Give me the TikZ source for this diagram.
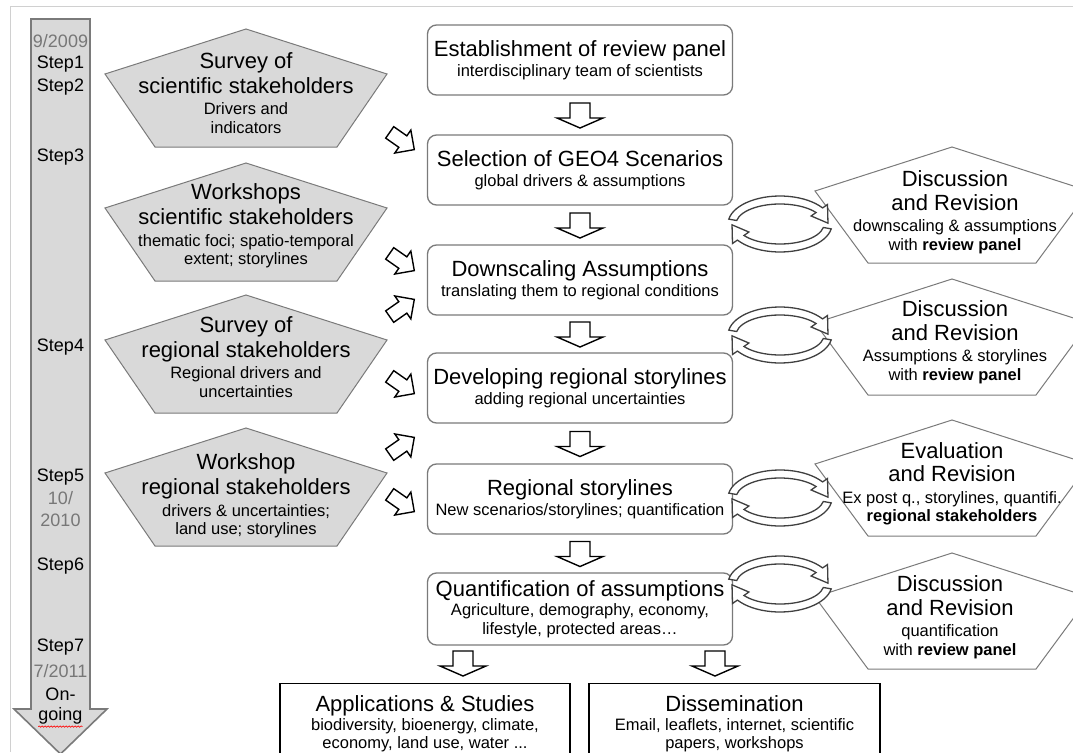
\documentclass[tikz,border=0pt]{standalone}
\usepackage{fontspec}
\setmainfont{Liberation Sans}
\usetikzlibrary{calc,decorations.pathmorphing}

\definecolor{boxgray}{HTML}{7A7A7A}
\definecolor{fillgray}{HTML}{D9D9D9}
\definecolor{dategray}{HTML}{777777}
\definecolor{framegray}{HTML}{D0D0D0}

\newcommand\titlesize{\fontsize{22}{24}\selectfont}
\newcommand\subsize{\fontsize{16.5}{18.5}\selectfont}
\newcommand\stepsize{\fontsize{18}{20}\selectfont}

\tikzset{
  mainbox/.style={draw=boxgray, line width=1.3pt, rounded corners=9pt, fill=white,
    minimum width=305pt, minimum height=70pt, align=center, inner sep=0pt, font=\subsize},
  endbox/.style={draw=black, line width=1.3pt, fill=white, anchor=north,
    minimum width=290pt, minimum height=80pt, align=center, inner sep=0pt, font=\subsize},
  leftpent/.style={draw=boxgray, fill=fillgray, line width=1pt},
  rightpent/.style={draw=boxgray, fill=white, line width=1pt},
  pentext/.style={align=center, inner sep=0pt, font=\subsize},
  steplbl/.style={font=\stepsize, inner sep=0pt},
  datelbl/.style={font=\stepsize, text=dategray, inner sep=0pt},
  blockarr/.style={draw=black, fill=white, line width=1.4pt, line join=miter},
  revarr/.style={draw=black!75, fill=white, line width=1.3pt},
  downarr/.pic={
    \draw[blockarr] (-10,-12) -- (-10,3) -- (-23,3) -- (0,13) -- (23,3) -- (10,3) -- (10,-12) -- cycle;
  },
  feedarr/.pic={
    \draw[blockarr] (-15,-7) -- (1,-7) -- (1,-14) -- (15,0) -- (1,14) -- (1,7) -- (-15,7) -- cycle;
  },
  revloop/.pic={
    \foreach \r in {0,180}
      \draw[revarr,rotate=\r] (-170:52 and 28) arc[start angle=-170, end angle=-35, x radius=52, y radius=28]
        -- (-35:58 and 34) -- (-2:48 and 24) -- (-35:38 and 14) -- (-35:44 and 20)
        arc[start angle=-35, end angle=-170, x radius=44, y radius=20] -- cycle;
  }
}

\begin{document}
\begin{tikzpicture}[x=1pt,y=-1pt]
\useasboundingbox (0,0) rectangle (1073,752);
\clip (0,0) rectangle (1073,752);

% frame
\draw[framegray, line width=1pt] (10,752) -- (10,7) -- (1073,7);

% time line
\draw[fill=fillgray, draw=boxgray, line width=1.6pt] (31,19) -- (90,19) -- (90,709) -- (107,709)
  -- (60.5,754) -- (14,709) -- (31,709) -- cycle;

\node[datelbl] (d1) at (60.5,41) {9/2009};
\node[steplbl] (s1) at (60.5,64) {Step1};
\node[steplbl] (s2) at (60.5,87) {Step2};
\node[steplbl] (s3) at (60.5,157) {Step3};
\node[steplbl] (s4) at (60.5,347) {Step4};
\node[steplbl] (s5) at (60.5,477) {Step5};
\node[datelbl] (d2) at (60.5,498) {10/};
\node[datelbl] (d3) at (60.5,520) {2010};
\node[steplbl] (s6) at (60.5,566) {Step6};
\node[steplbl] (s7) at (60.5,647) {Step7};
\node[datelbl] (d4) at (60.5,671) {7/2011};
\node[steplbl] (on) at (60.5,694) {On-};
\node[steplbl] (go) at (60.5,716) {going};
\draw[red, line width=0.6pt, decorate, decoration={snake, amplitude=0.7pt, segment length=3pt}]
  ($(go.south west)+(0,2)$) -- ($(go.south east)+(0,2)$);

% main column
\node[mainbox] (est) at (580,60) {\titlesize Establishment of review panel\\[1.5pt]
  interdisciplinary team of scientists};
\node[mainbox] (sel) at (580,170) {\titlesize Selection of GEO4 Scenarios\\[1.5pt]
  global drivers \& assumptions};
\node[mainbox] (dsc) at (580,280) {\titlesize Downscaling Assumptions\\[1.5pt]
  translating them to regional conditions};
\node[mainbox] (dev) at (580,388) {\titlesize Developing regional storylines\\[1.5pt]
  adding regional uncertainties};
\node[mainbox] (reg) at (580,499) {\titlesize Regional storylines\\[1.5pt]
  New scenarios/storylines; quantification};
\node[mainbox, minimum height=72pt] (qnt) at (580,609) {\titlesize Quantification of assumptions\\[1pt]
  Agriculture, demography, economy,\\ lifestyle, protected areas…};

\node[endbox] (app) at (425,683) {\titlesize Applications \& Studies\\[0.5pt]
  biodiversity, bioenergy, climate,\\ economy, land use, water ...};
\node[endbox] (dis) at (734.5,683) {\titlesize Dissemination\\[0.5pt]
  Email, leaflets, internet, scientific\\ papers, workshops};
\draw[black, line width=1.3pt] (app.north west) -- (app.south west) (app.north east) -- (app.south east)
  (dis.north west) -- (dis.south west) (dis.north east) -- (dis.south east);

\pic at ($(est.south)!0.5!(sel.north)$) {downarr};
\pic at ($(sel.south)!0.5!(dsc.north)$) {downarr};
\pic at ($(dsc.south)!0.5!(dev.north)$) {downarr};
\pic at ($(dev.south)!0.5!(reg.north)$) {downarr};
\pic at ($(reg.south)!0.5!(qnt.north)$) {downarr};
\pic at (463,663) {downarr};
\pic at (715,663) {downarr};

% stakeholder input
\draw[leftpent] (246,29) -- ++(141,45) -- ++(-50,73) -- ++(-182,0) -- ++(-50,-73) -- cycle;
\node[pentext] (sv1) at (246,93) {\titlesize Survey of\\[3.5pt]\titlesize scientific stakeholders\\[3pt]
  Drivers and\\ indicators};
\draw[leftpent] (246,163) -- ++(141,45) -- ++(-50,73) -- ++(-182,0) -- ++(-50,-73) -- cycle;
\node[pentext] (ws1) at (246,226) {\titlesize Workshops\\[3.5pt]\titlesize scientific stakeholders\\[3pt]
  thematic foci; spatio-temporal\\ extent; storylines};
\draw[leftpent] (246,295) -- ++(141,45) -- ++(-50,73) -- ++(-182,0) -- ++(-50,-73) -- cycle;
\node[pentext] (sv2) at (246,357) {\titlesize Survey of\\[3.5pt]\titlesize regional stakeholders\\[3pt]
  Regional drivers and\\ uncertainties};
\draw[leftpent] (246,428) -- ++(141,45) -- ++(-50,73) -- ++(-182,0) -- ++(-50,-73) -- cycle;
\node[pentext] (ws2) at (246,496) {\titlesize Workshop\\[3.5pt]\titlesize regional stakeholders\\[3pt]
  drivers \& uncertainties;\\ land use; storylines};

\pic[rotate=-35] at (402,141) {feedarr};
\pic[rotate=-35] at (402,262) {feedarr};
\pic[rotate=35] at (402,308) {feedarr};
\pic[rotate=-35] at (402,385) {feedarr};
\pic[rotate=35] at (402,446) {feedarr};
\pic[rotate=-35] at (402,503) {feedarr};

% revision loops
\draw[rightpent] (952,147) -- ++(137,44) -- ++(-53,72) -- ++(-168,0) -- ++(-53,-72) -- cycle;
\node[pentext] (dr1) at (955,212) {\titlesize Discussion\\[5pt]\titlesize and Revision\\[3pt]
  downscaling \& assumptions\\ with \textbf{review panel}};
\draw[rightpent] (952,279) -- ++(137,44) -- ++(-53,72) -- ++(-168,0) -- ++(-53,-72) -- cycle;
\node[pentext] (dr2) at (955,342) {\titlesize Discussion\\[5pt]\titlesize and Revision\\[3pt]
  Assumptions \& storylines\\ with \textbf{review panel}};
\draw[rightpent] (952,420) -- ++(137,44) -- ++(-53,72) -- ++(-168,0) -- ++(-53,-72) -- cycle;
\node[pentext] (er3) at (952,484) {\titlesize Evaluation\\[5pt]\titlesize and Revision\\[3pt]
  Ex post q., storylines, quantifi.\\ \textbf{regional stakeholders}};
\draw[rightpent] (952,553) -- ++(137,44) -- ++(-53,72) -- ++(-168,0) -- ++(-53,-72) -- cycle;
\node[pentext] (dr4) at (950,617) {\titlesize Discussion\\[5pt]\titlesize and Revision\\[3pt]
  quantification\\ with \textbf{review panel}};

\pic at (780,224) {revloop};
\pic at (780,335) {revloop};
\pic at (780,498) {revloop};
\pic at (780,584) {revloop};

\end{tikzpicture}
\end{document}
